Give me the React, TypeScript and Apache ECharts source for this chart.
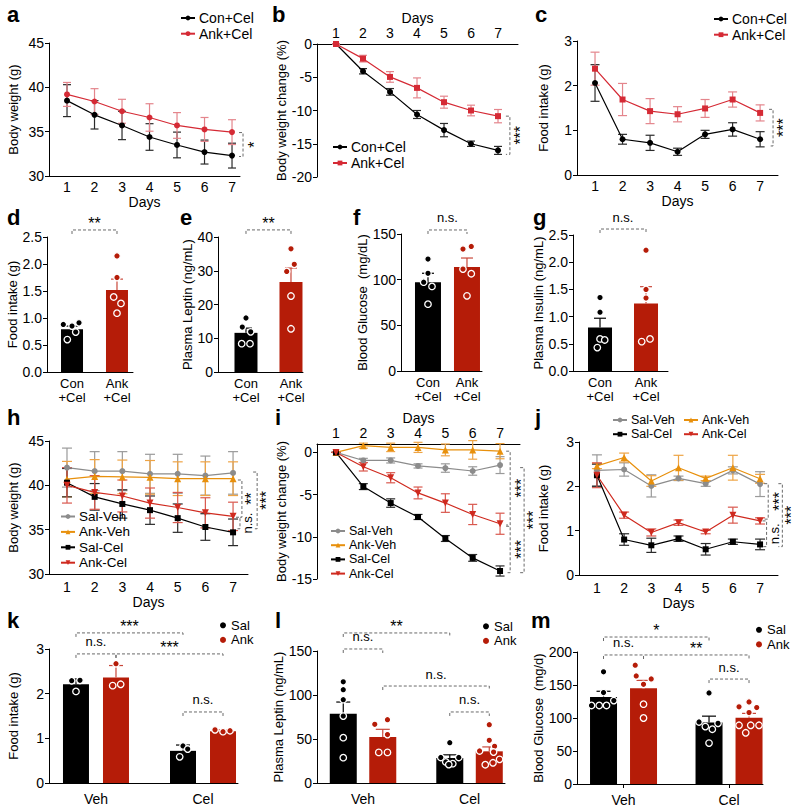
import React, { useEffect, useRef } from 'react';
import * as echarts from 'echarts';

const FONT = '"Liberation Sans", Arial, Helvetica, sans-serif';
const C_BLACK = '#000000';
const C_BLACK_ERR = '#2a2a2a';
const C_RED = '#d52a35';
const C_RED_ERR = '#e4858c';
const C_BAR_RED = '#b51c08';
const C_GRAY = '#8c8c8c';
const C_ORANGE = '#e8900c';
const C_CEL_RED = '#cf2a1f';

// ---------------- data ----------------
const DAYS = [1, 2, 3, 4, 5, 6, 7];

// a — body weight (g)
const aConMean = [38.5, 36.9, 35.7, 34.4, 33.5, 32.7, 32.3];
const aConSem = [1.8, 1.6, 1.6, 1.5, 1.45, 1.35, 1.4];
const aAnkMean = [39.2, 38.4, 37.3, 36.6, 35.7, 35.25, 34.95];
const aAnkSem = [1.35, 1.45, 1.35, 1.55, 1.45, 1.35, 1.4];

// b — body weight change (%)
const bConMean = [0, -4.1, -7.2, -10.6, -12.95, -15.0, -16.0];
const bConSem = [0, 0.4, 0.5, 0.6, 1.0, 0.4, 0.6];
const bAnkMean = [0, -2.2, -4.95, -6.6, -8.75, -10.0, -10.85];
const bAnkSem = [0, 0.5, 0.8, 1.5, 0.9, 0.8, 1.0];

// c — food intake (g)
const cConMean = [2.06, 0.8, 0.72, 0.52, 0.91, 1.02, 0.8];
const cConSem = [0.41, 0.11, 0.17, 0.08, 0.09, 0.15, 0.17];
const cAnkMean = [2.38, 1.69, 1.43, 1.36, 1.49, 1.69, 1.39];
const cAnkSem = [0.37, 0.36, 0.28, 0.17, 0.2, 0.17, 0.18];

// d-g — two-bar panels
const conAnkCats = ['Con\n+Cel', 'Ank\n+Cel'];
const dMean = [0.79, 1.52];
const dSem = [0.06, 0.2];
const dConPts = [0.88, 0.85, 0.91, 0.74, 0.6];
const dAnkPts = [2.15, 1.75, 1.39, 1.27, 1.09];
const eMean = [11.6, 26.7];
const eSem = [1.4, 4.1];
const eConPts = [16, 13.3, 11.9, 8.4, 8.4];
const eAnkPts = [36.5, 31.9, 29.8, 22.5, 12.8];
const fMean = [97.3, 113.8];
const fSem = [9.7, 9.9];
const fConPts = [122.6, 107, 97.3, 92.6, 73.2];
const fAnkPts = [133.5, 136.4, 111.6, 106.5, 82.3];
const gMean = [0.8, 1.24];
const gSem = [0.17, 0.31];
const gConPts = [1.35, 1.08, 0.59, 0.57, 0.43];
const gAnkPts = [2.22, 1.5, 1.34, 0.59, 0.54];

// h — body weight (g), four groups
const hSalVehMean = [42.0, 41.6, 41.6, 41.3, 41.3, 41.1, 41.4];
const hSalVehSem = [2.2, 2.2, 2.2, 2.2, 2.2, 2.2, 2.4];
const hAnkVehMean = [40.7, 41.0, 40.95, 40.9, 40.75, 40.75, 40.75];
const hAnkVehSem = [2.0, 1.9, 1.9, 1.9, 1.9, 1.9, 1.9];
const hSalCelMean = [40.3, 38.7, 37.9, 37.2, 36.3, 35.3, 34.7];
const hSalCelSem = [1.6, 1.5, 1.6, 1.6, 1.6, 1.5, 1.5];
const hAnkCelMean = [40.0, 39.2, 38.8, 38.0, 37.5, 36.9, 36.5];
const hAnkCelSem = [2.0, 1.9, 1.8, 1.7, 1.7, 1.7, 1.6];

// i — body weight change (%)
const iSalVehMean = [0, -0.95, -0.95, -1.6, -1.85, -2.2, -1.5];
const iSalVehSem = [0, 0.25, 0.3, 0.25, 0.5, 0.5, 1.0];
const iAnkVehMean = [0, 0.8, 0.6, 0.6, 0.3, 0.3, 0.15];
const iAnkVehSem = [0, 0.3, 0.5, 0.6, 0.7, 1.1, 0.9];
const iSalCelMean = [0, -4.05, -6.0, -7.65, -10.2, -12.5, -14.05];
const iSalCelSem = [0, 0.35, 0.5, 0.3, 0.35, 0.4, 0.6];
const iAnkCelMean = [0, -1.7, -3.0, -4.8, -6.0, -7.35, -8.45];
const iAnkCelSem = [0, 0.5, 0.6, 0.7, 1.1, 1.2, 1.25];

// j — food intake (g)
const jSalVehMean = [2.36, 2.38, 2.01, 2.18, 2.06, 2.36, 2.05];
const jSalVehSem = [0.35, 0.15, 0.25, 0.05, 0.06, 0.08, 0.28];
const jAnkVehMean = [2.46, 2.65, 2.12, 2.42, 2.18, 2.42, 2.17];
const jAnkVehSem = [0.06, 0.1, 0.12, 0.28, 0.05, 0.28, 0.1];
const jSalCelMean = [2.25, 0.8, 0.67, 0.82, 0.58, 0.75, 0.69];
const jSalCelSem = [0.25, 0.13, 0.16, 0.06, 0.13, 0.06, 0.12];
const jAnkCelMean = [2.25, 1.35, 0.96, 1.18, 0.97, 1.35, 1.22];
const jAnkCelSem = [0.28, 0.07, 0.08, 0.06, 0.04, 0.18, 0.07];

// k-m — grouped bars (Veh, Cel) x (Sal, Ank)
const groupCats = ['Veh', 'Cel'];
const kSalMean = [2.21, 0.72];
const kSalSem = [0.12, 0.13];
const kAnkMean = [2.36, 1.16];
const kAnkSem = [0.27, 0.03];
const kSalVehPts = [2.29, 2.3, 2.05];
const kSalCelPts = [0.83, 0.76, 0.585];
const kAnkVehPts = [2.67, 2.18, 2.21];
const kAnkCelPts = [1.19, 1.15, 1.17];

const lSalMean = [78.8, 28.4];
const lSalSem = [13.2, 3.6];
const lAnkMean = [52.3, 36];
const lAnkSem = [8.7, 5];
const lSalVehPts = [115, 106, 94.7, 76, 51.5, 28.8];
const lSalCelPts = [45.8, 29, 29, 24, 22, 21];
const lAnkVehPts = [66.7, 72, 55, 34.8, 34.8];
const lAnkCelPts = [66.3, 48.5, 41.7, 36.4, 35.2, 20.8, 23, 26.9];

const mSalMean = [132, 93];
const mSalSem = [8.5, 9.8];
const mAnkMean = [145, 100.5];
const mAnkSem = [12, 6.5];
const mSalVehPts = [170, 138.5, 119, 119, 119, 126.4];
const mSalCelPts = [138, 94, 87, 83, 92, 62];
const mAnkVehPts = [180, 163.7, 159.2, 151, 121, 100];
const mAnkCelPts = [124.4, 116.9, 115.9, 108.3, 89, 89, 89, 77.6];

// ---------------- layout (pixels) ----------------
const GRIDS = [
  { left: 49, top: 43, width: 191, height: 133 }, // a
  { left: 317, top: 44, width: 201, height: 133 }, // b
  { left: 577, top: 41, width: 201, height: 134 }, // c
  { left: 47, top: 237, width: 86, height: 135 }, // d
  { left: 218, top: 237, width: 85, height: 135 }, // e
  { left: 401, top: 234, width: 81, height: 137 }, // f
  { left: 573, top: 235, width: 95, height: 136 }, // g
  { left: 49, top: 441, width: 199, height: 133 }, // h
  { left: 317, top: 444, width: 203, height: 135 }, // i
  { left: 579, top: 442, width: 199, height: 133 }, // j
  { left: 49, top: 649, width: 189, height: 134 }, // k
  { left: 317, top: 651, width: 188, height: 132 }, // l
  { left: 577, top: 652, width: 186, height: 132 }, // m
];

// point jitter (pixel offsets) for dot plots
const dConJ = [-8.7, 0, 7, 3.7, -4.7];
const dAnkJ = [0, 0, -3.3, 4, 0];
const eConJ = [0, -3.7, 4.7, -4.3, 4];
const eAnkJ = [0, 3.3, -4.3, 0, 0];
const fConJ = [0, 0, -4.3, 4, 0];
const fAnkJ = [-4, 4.3, -4, 4.3, 0];
const gConJ = [0, 0, 0, 4.7, -2.7];
const gAnkJ = [0, 0, 0, 4, -4.3];
const kSalVehJ = [-4.3, 4, 0];
const kSalCelJ = [0, 4.7, -3.3];
const kAnkVehJ = [0, -3.3, 4.7];
const kAnkCelJ = [-8, 0, 7];
const lSalVehJ = [0, 0, 0, 0, 0, 0];
const lSalCelJ = [0, -9, 9, -4, 3, -1];
const lAnkVehJ = [-8, 4.7, 4.7, -4, 4.7];
const lAnkCelJ = [0, 0, 5.3, -9.7, 4.3, -4, 3.7, 10.3];
const mSalVehJ = [0, 0, -12, -4.3, 3, 10.3];
const mSalCelJ = [0, -10, -3.7, 3.3, 9, 0];
const mAnkVehJ = [-8.3, -7.3, 7.7, 0, 0, 0];
const mAnkCelJ = [0, -10, 7.7, 0, -10, 1.7, 10, -3.3];

// ---------------- helpers ----------------
const TXT = { color: '#000', fontSize: 13, fontFamily: FONT };
const TICK = { color: '#000', fontSize: 14, fontFamily: FONT };

function yAx(gi: number, min: number, max: number, interval: number | null, name: string, nameGap: number, decimals = 0, custom?: number[]) {
  const ax: any = {
    type: 'value', gridIndex: gi, min, max, name, nameLocation: 'middle', nameGap, nameRotate: 90,
    nameTextStyle: { ...TXT },
    axisLine: { show: true, onZero: false, lineStyle: { color: '#000', width: 1 } },
    axisTick: { show: true, length: 4, lineStyle: { color: '#000', width: 1 } },
    splitLine: { show: false },
    axisLabel: { ...TICK, margin: 5, formatter: (v: number) => v.toFixed(decimals) },
  };
  if (interval != null) ax.interval = interval;
  if (custom) {
    ax.axisLabel.customValues = custom;
    ax.axisTick.customValues = custom;
  }
  return ax;
}

function xDay(gi: number, min: number, max: number, position: string, margin: number, nameGap: number) {
  return {
    type: 'value', gridIndex: gi, min, max, position,
    name: 'Days', nameLocation: 'middle', nameGap, nameTextStyle: { ...TICK },
    axisLine: { show: true, onZero: false, lineStyle: { color: '#000', width: 1 } },
    axisTick: { show: false },
    splitLine: { show: false },
    axisLabel: { ...TICK, margin, customValues: DAYS, formatter: (v: number) => String(Math.round(v)) },
  };
}

function xCat(gi: number, min: number, max: number, labels: string[], margin: number, showTick: boolean, fontSize = 14, lineHeight = 15.6) {
  const pos = labels.map((_, i) => i + 1);
  return {
    type: 'value', gridIndex: gi, min, max,
    axisLine: { show: true, onZero: false, lineStyle: { color: '#000', width: 1 } },
    axisTick: { show: showTick, length: 4, customValues: pos, lineStyle: { color: '#000' } },
    splitLine: { show: false },
    axisLabel: { ...TICK, fontSize, margin, lineHeight, customValues: pos, formatter: (v: number) => labels[Math.round(v) - 1] ?? '' },
  };
}

function lineS(id: string, gi: number, name: string, means: number[], color: string, symbol: string, size: number, rotate = 0) {
  return {
    type: 'line', name: `${id}:${name}`, xAxisIndex: gi, yAxisIndex: gi, silent: true, z: 4,
    data: DAYS.map((d, i) => [d, means[i]]),
    symbol, symbolSize: size, symbolRotate: rotate, showSymbol: true,
    lineStyle: { color, width: 1.2 }, itemStyle: { color },
  };
}

function errS(gi: number, xs: number[], means: number[], sems: number[], color: string, cap: number, upOnly = false, width = 1.2) {
  return {
    type: 'custom', xAxisIndex: gi, yAxisIndex: gi, silent: true, z: 3,
    data: xs.map((x, i) => [x, upOnly ? means[i] : means[i] - sems[i], means[i] + sems[i]]),
    encode: { x: 0, y: [1, 2] },
    renderItem: (_p: any, api: any) => {
      const x = api.value(0);
      const a = api.coord([x, api.value(1)]);
      const b = api.coord([x, api.value(2)]);
      const st = { stroke: color, lineWidth: width };
      const ch: any[] = [
        { type: 'line', shape: { x1: a[0], y1: a[1], x2: b[0], y2: b[1] }, style: st },
        { type: 'line', shape: { x1: b[0] - cap, y1: b[1], x2: b[0] + cap, y2: b[1] }, style: st },
      ];
      if (!upOnly) ch.push({ type: 'line', shape: { x1: a[0] - cap, y1: a[1], x2: a[0] + cap, y2: a[1] }, style: st });
      return { type: 'group', children: ch };
    },
  };
}

function barS(gi: number, name: string, xs: number[], means: number[], color: string, width: number) {
  return {
    type: 'bar', name, xAxisIndex: gi, yAxisIndex: gi, silent: true, z: 2,
    data: xs.map((x, i) => [x, means[i]]), barWidth: width, barGap: '-100%',
    itemStyle: { color },
  };
}

function ptsS(gi: number, x: number, vals: number[], jit: number[], color: string) {
  return {
    type: 'scatter', xAxisIndex: gi, yAxisIndex: gi, silent: true, z: 5,
    data: vals.map((v, i) => ({ value: [x, v], symbolOffset: [jit[i] || 0, 0] })),
    symbol: 'circle', symbolSize: 6.5,
    itemStyle: { color, borderColor: '#ffffff', borderWidth: 1.3, opacity: 1 },
  };
}

type HB = { x1: number; x2: number; y: number; label: string };
type VB = { x: number; y1: number; y2: number; label: string; dx?: number };
const DASH = { stroke: '#6a6a6a', lineWidth: 1, lineDash: [3, 2], fill: 'none' };
const isNS = (s: string) => s.indexOf('n') >= 0;
const sigFont = (s: string) => (isNS(s) ? 13 : 16);

function hBr(gi: number, items: HB[]) {
  return {
    type: 'custom', xAxisIndex: gi, yAxisIndex: gi, silent: true, z: 6, clip: false,
    data: items.map((it) => [it.x1, it.y]),
    renderItem: (p: any, api: any) => {
      const it = items[p.dataIndex];
      const a = api.coord([it.x1, it.y]);
      const b = api.coord([it.x2, it.y]);
      const off = isNS(it.label) ? 12 : 6.5;
      return {
        type: 'group', children: [
          { type: 'polyline', shape: { points: [[a[0], a[1] + 4], [a[0], a[1]], [b[0], b[1]], [b[0], b[1] + 4]] }, style: DASH },
          { type: 'text', x: (a[0] + b[0]) / 2, y: a[1] - off, style: { text: it.label, fill: '#000', fontSize: sigFont(it.label), fontFamily: FONT, align: 'center', verticalAlign: 'middle' } },
        ],
      };
    },
  };
}

function vBr(gi: number, items: VB[]) {
  return {
    type: 'custom', xAxisIndex: gi, yAxisIndex: gi, silent: true, z: 6, clip: false,
    data: items.map((it) => [it.x, it.y1]),
    renderItem: (p: any, api: any) => {
      const it = items[p.dataIndex];
      const a = api.coord([it.x, it.y1]);
      const b = api.coord([it.x, it.y2]);
      const off = it.dx != null ? it.dx : isNS(it.label) ? 7.5 : 11;
      return {
        type: 'group', children: [
          { type: 'polyline', shape: { points: [[a[0] - 4, a[1]], [a[0], a[1]], [b[0], b[1]], [b[0] - 4, b[1]]] }, style: DASH },
          { type: 'text', x: a[0] + off, y: (a[1] + b[1]) / 2, rotation: Math.PI / 2, style: { text: it.label, fill: '#000', fontSize: sigFont(it.label), fontFamily: FONT, align: 'center', verticalAlign: 'middle' } },
        ],
      };
    },
  };
}

const legendFmt = (n: string) => n.slice(n.indexOf(':') + 1);
function lineLegend(left: number, top: number, names: string[], gap: number, fontSize = 14, lineHeight = 14) {
  return {
    left, top, orient: 'vertical', data: names, formatter: legendFmt, selectedMode: false,
    itemWidth: 14, itemHeight: 6, itemGap: gap, padding: 0,
    textStyle: { color: '#000', fontFamily: FONT, fontSize, lineHeight, padding: [0, 0, 0, -1] },
  };
}
function dotLegend(left: number, top: number, names: string[]) {
  return {
    left, top, orient: 'vertical', data: names, formatter: legendFmt, selectedMode: false,
    icon: 'circle', itemWidth: 6, itemHeight: 6, itemGap: 0, padding: 0,
    textStyle: { color: '#000', fontFamily: FONT, fontSize: 13, lineHeight: 14.6 },
  };
}

function buildOption() {
  const kO = 20 / 107;
  const lO = 19.75 / 106.5;
  const mO = 20 / 105.5;

  const xAxis: any[] = [
    xDay(0, 0.345, 7.29, 'bottom', 4, 17),
    xDay(1, 0.296, 7.74, 'top', 4, 19),
    xDay(2, 0.345, 7.65, 'bottom', 4, 17),
    xCat(3, 0.444, 2.356, conAnkCats, 4, false, 13, 14.6),
    xCat(4, 0.378, 2.267, conAnkCats, 4, false, 13, 14.6),
    xCat(5, 0.308, 2.385, conAnkCats, 4, false, 13, 14.6),
    xCat(6, 0.413, 2.478, conAnkCats, 4, false, 13, 14.6),
    xDay(7, 0.35, 7.54, 'bottom', 6, 19),
    xDay(8, 0.305, 7.73, 'top', 4, 18),
    xDay(9, 0.34, 7.66, 'bottom', 6, 19),
    xCat(10, 0.561, 2.327, groupCats, 8, false),
    xCat(11, 0.568, 2.333, groupCats, 8, false),
    xCat(12, 0.559, 2.322, groupCats, 8, true),
  ];
  const yAxis: any[] = [
    yAx(0, 30, 45, 5, 'Body weight (g)', 29),
    yAx(1, -20, 0, 5, 'Body weight change (%)', 28),
    yAx(2, 0, 3, 1, 'Food intake (g)', 27),
    yAx(3, 0, 2.5, 0.5, 'Food intake (g)', 27, 1),
    yAx(4, 0, 40, 10, 'Plasma Leptin (ng/mL)', 23),
    yAx(5, 0, 150, 50, 'Blood Glucose  (mg/dL)', 31),
    yAx(6, 0, 2.5, 0.5, 'Plasma Insulin (ng/mL)', 23, 1),
    yAx(7, 30, 45, 5, 'Body weight (g)', 29),
    yAx(8, -15, 1, null, 'Body weight change (%)', 28, 0, [-15, -10, -5, 0]),
    yAx(9, 0, 3, 1, 'Food intake (g)', 29),
    yAx(10, 0, 3, 1, 'Food intake (g)', 29),
    yAx(11, 0, 150, 50, 'Plasma Leptin (ng/mL)', 29),
    yAx(12, 0, 200, 50, 'Blood Glucose  (mg/d)', 27),
  ];

  const series: any[] = [];
  // a
  series.push(errS(0, DAYS, aConMean, aConSem, C_BLACK_ERR, 4));
  series.push(errS(0, DAYS, aAnkMean, aAnkSem, C_RED_ERR, 4));
  series.push(lineS('a', 0, 'Con+Cel', aConMean, C_BLACK, 'circle', 6));
  series.push(lineS('a', 0, 'Ank+Cel', aAnkMean, C_RED, 'circle', 6));
  series.push(vBr(0, [{ x: 7.4, y1: 34.9, y2: 32.2, label: '*' }]));
  // b
  series.push(errS(1, DAYS, bConMean, bConSem, C_BLACK_ERR, 4));
  series.push(errS(1, DAYS, bAnkMean, bAnkSem, C_RED_ERR, 4));
  series.push(lineS('b', 1, 'Con+Cel', bConMean, C_BLACK, 'circle', 6));
  series.push(lineS('b', 1, 'Ank+Cel', bAnkMean, C_RED, 'rect', 6));
  series.push(vBr(1, [{ x: 7.44, y1: -10.85, y2: -16.6, label: '***' }]));
  // c
  series.push(errS(2, DAYS, cConMean, cConSem, C_BLACK_ERR, 4.5));
  series.push(errS(2, DAYS, cAnkMean, cAnkSem, C_RED_ERR, 4.5));
  series.push(lineS('c', 2, 'Con+Cel', cConMean, C_BLACK, 'circle', 6));
  series.push(lineS('c', 2, 'Ank+Cel', cAnkMean, C_RED, 'rect', 6));
  series.push(vBr(2, [{ x: 7.47, y1: 1.47, y2: 0.65, label: '***', dx: 10 }]));

  // d-g
  const two = [
    { gi: 3, mean: dMean, sem: dSem, con: dConPts, ank: dAnkPts, cj: dConJ, aj: dAnkJ, w: 22, br: { y: 2.63, label: '**' } },
    { gi: 4, mean: eMean, sem: eSem, con: eConPts, ank: eAnkPts, cj: eConJ, aj: eAnkJ, w: 23, br: { y: 42.1, label: '**' } },
    { gi: 5, mean: fMean, sem: fSem, con: fConPts, ank: fAnkPts, cj: fConJ, aj: fAnkJ, w: 26, br: { y: 154.4, label: 'n.s.' } },
    { gi: 6, mean: gMean, sem: gSem, con: gConPts, ank: gAnkPts, cj: gConJ, aj: gAnkJ, w: 24, br: { y: 2.61, label: 'n.s.' } },
  ];
  two.forEach((p) => {
    series.push(barS(p.gi, `p${p.gi}:Con`, [1], [p.mean[0]], C_BLACK, p.w));
    series.push(barS(p.gi, `p${p.gi}:Ank`, [2], [p.mean[1]], C_BAR_RED, p.w));
    series.push(errS(p.gi, [1], [p.mean[0]], [p.sem[0]], C_BLACK, 6, true));
    series.push(errS(p.gi, [2], [p.mean[1]], [p.sem[1]], '#c9473a', 6, true));
    series.push(ptsS(p.gi, 1, p.con, p.cj, C_BLACK));
    series.push(ptsS(p.gi, 2, p.ank, p.aj, C_BAR_RED));
    series.push(hBr(p.gi, [{ x1: 1, x2: 2, y: p.br.y, label: p.br.label }]));
  });

  // h-j
  const four = (id: string, gi: number, sv: number[][], av: number[][], sc: number[][], ac: number[][], cap: number) => {
    series.push(errS(gi, DAYS, sv[0], sv[1], '#9a9a9a', cap));
    series.push(errS(gi, DAYS, av[0], av[1], '#eea445', cap));
    series.push(errS(gi, DAYS, sc[0], sc[1], C_BLACK_ERR, cap));
    series.push(errS(gi, DAYS, ac[0], ac[1], '#d9584e', cap));
    series.push(lineS(id, gi, 'Sal-Veh', sv[0], C_GRAY, 'circle', 6));
    series.push(lineS(id, gi, 'Ank-Veh', av[0], C_ORANGE, 'triangle', 7));
    series.push(lineS(id, gi, 'Sal-Cel', sc[0], C_BLACK, 'rect', 6));
    series.push(lineS(id, gi, 'Ank-Cel', ac[0], C_CEL_RED, 'triangle', 7, 180));
  };
  four('h', 7, [hSalVehMean, hSalVehSem], [hAnkVehMean, hAnkVehSem], [hSalCelMean, hSalCelSem], [hAnkCelMean, hAnkCelSem], 5);
  series.push(vBr(7, [
    { x: 7.25, y1: 36.4, y2: 35.1, label: 'n.s.' },
    { x: 7.32, y1: 40.6, y2: 36.4, label: '**', dx: 9.5 },
    { x: 7.87, y1: 41.5, y2: 35.1, label: '***', dx: 9.5 },
  ]));
  four('i', 8, [iSalVehMean, iSalVehSem], [iAnkVehMean, iAnkVehSem], [iSalCelMean, iSalCelSem], [iAnkCelMean, iAnkCelSem], 4.5);
  series.push(vBr(8, [
    { x: 7.37, y1: 0.15, y2: -8.6, label: '***' },
    { x: 7.37, y1: -8.75, y2: -14.25, label: '***' },
    { x: 7.88, y1: -1.8, y2: -14.25, label: '***', dx: 9.5 },
  ]));
  four('j', 9, [jSalVehMean, jSalVehSem], [jAnkVehMean, jAnkVehSem], [jSalCelMean, jSalCelSem], [jAnkCelMean, jAnkCelSem], 5);
  series.push(vBr(9, [
    { x: 7.24, y1: 1.22, y2: 0.64, label: 'n.s.' },
    { x: 7.3, y1: 2.06, y2: 1.26, label: '***' },
    { x: 7.82, y1: 2.06, y2: 0.64, label: '***', dx: 9 },
  ]));

  // k-m grouped
  const grouped = (id: string, gi: number, o: number, w: number, salM: number[], salS: number[], ankM: number[], ankS: number[],
    pts: number[][], jit: number[][], cap: number) => {
    const sx = [1 - o, 2 - o];
    const ax = [1 + o, 2 + o];
    series.push(barS(gi, `${id}:Sal`, sx, salM, C_BLACK, w));
    series.push(barS(gi, `${id}:Ank`, ax, ankM, C_BAR_RED, w));
    series.push(errS(gi, sx, salM, salS, C_BLACK, cap, true));
    series.push(errS(gi, ax, ankM, ankS, '#c9473a', cap, true));
    series.push(ptsS(gi, sx[0], pts[0], jit[0], C_BLACK));
    series.push(ptsS(gi, sx[1], pts[1], jit[1], C_BLACK));
    series.push(ptsS(gi, ax[0], pts[2], jit[2], C_BAR_RED));
    series.push(ptsS(gi, ax[1], pts[3], jit[3], C_BAR_RED));
  };
  grouped('k', 10, kO, 26, kSalMean, kSalSem, kAnkMean, kAnkSem,
    [kSalVehPts, kSalCelPts, kAnkVehPts, kAnkCelPts], [kSalVehJ, kSalCelJ, kAnkVehJ, kAnkCelJ], 7);
  series.push(hBr(10, [
    { x1: 1 - kO, x2: 2 - kO, y: 3.36, label: '***' },
    { x1: 1 - kO, x2: 1 + kO, y: 2.89, label: 'n.s.' },
    { x1: 1 + kO, x2: 2 + kO, y: 2.89, label: '***' },
    { x1: 2 - kO, x2: 2 + kO, y: 1.59, label: 'n.s.' },
  ]));
  grouped('l', 11, lO, 27, lSalMean, lSalSem, lAnkMean, lAnkSem,
    [lSalVehPts, lSalCelPts, lAnkVehPts, lAnkCelPts], [lSalVehJ, lSalCelJ, lAnkVehJ, lAnkCelJ], 7);
  series.push(hBr(11, [
    { x1: 1 - lO, x2: 2 - lO, y: 170.5, label: '**' },
    { x1: 1 - lO, x2: 1 + lO, y: 152.3, label: 'n.s.' },
    { x1: 1 + lO, x2: 2 + lO, y: 110.2, label: 'n.s.' },
    { x1: 2 - lO, x2: 2 + lO, y: 80.7, label: 'n.s.' },
  ]));
  grouped('m', 12, mO, 27, mSalMean, mSalSem, mAnkMean, mAnkSem,
    [mSalVehPts, mSalCelPts, mAnkVehPts, mAnkCelPts], [mSalVehJ, mSalCelJ, mAnkVehJ, mAnkCelJ], 7);
  series.push(hBr(12, [
    { x1: 1 - mO, x2: 2 - mO, y: 222.7, label: '*' },
    { x1: 1 - mO, x2: 1 + mO, y: 195.5, label: 'n.s.' },
    { x1: 1 + mO, x2: 2 + mO, y: 195.5, label: '**' },
    { x1: 2 - mO, x2: 2 + mO, y: 159, label: 'n.s.' },
  ]));

  const legend: any[] = [
    lineLegend(180, 11, ['a:Con+Cel', 'a:Ank+Cel'], 1.7),
    lineLegend(332, 140, ['b:Con+Cel', 'b:Ank+Cel'], 2),
    lineLegend(713, 12, ['c:Con+Cel', 'c:Ank+Cel'], 1.7),
    lineLegend(60, 509.5, ['h:Sal-Veh', 'h:Ank-Veh', 'h:Sal-Cel', 'h:Ank-Cel'], 1.4, 13.5, 14),
    lineLegend(330, 524, ['i:Sal-Veh', 'i:Ank-Veh', 'i:Sal-Cel', 'i:Ank-Cel'], 0.2, 12.5, 14),
    lineLegend(612, 413, ['j:Sal-Veh', 'j:Sal-Cel'], 0.2, 12.5, 14),
    lineLegend(683, 413, ['j:Ank-Veh', 'j:Ank-Cel'], 0.2, 12.5, 14),
    dotLegend(220, 618, ['k:Sal', 'k:Ank']),
    dotLegend(483, 619, ['l:Sal', 'l:Ank']),
    dotLegend(756, 622.5, ['m:Sal', 'm:Ank']),
  ];

  const letters: [string, number, number][] = [
    ['a', 7, 14.5], ['b', 272, 14.5], ['c', 535, 14.5],
    ['d', 7, 217], ['e', 180, 217], ['f', 353, 217], ['g', 533, 217],
    ['h', 7, 417], ['i', 275, 417], ['j', 535, 417],
    ['k', 7, 620], ['l', 275, 620], ['m', 531, 620],
  ];
  const graphic = letters.map(([t, x, y]) => ({
    type: 'text', x, y, silent: true,
    style: { text: t, fill: '#000', fontSize: 22, fontWeight: 'bold', fontFamily: FONT, align: 'left', verticalAlign: 'middle' },
  }));

  return {
    animation: false,
    backgroundColor: '#ffffff',
    textStyle: { fontFamily: FONT },
    grid: GRIDS.map((g) => ({ ...g, containLabel: false, outerBoundsMode: 'none' })),
    xAxis, yAxis, series, legend, graphic,
  };
}

export default function App() {
  const ref = useRef<HTMLDivElement | null>(null);
  useEffect(() => {
    if (!ref.current) return;
    const chart = echarts.init(ref.current, undefined, { renderer: 'svg' });
    chart.setOption(buildOption() as any);
    return () => chart.dispose();
  }, []);
  return (
    <div
      ref={ref}
      style={{ position: 'absolute', left: 0, top: 0, width: 800, height: 811, background: '#fff' }}
    />
  );
}
